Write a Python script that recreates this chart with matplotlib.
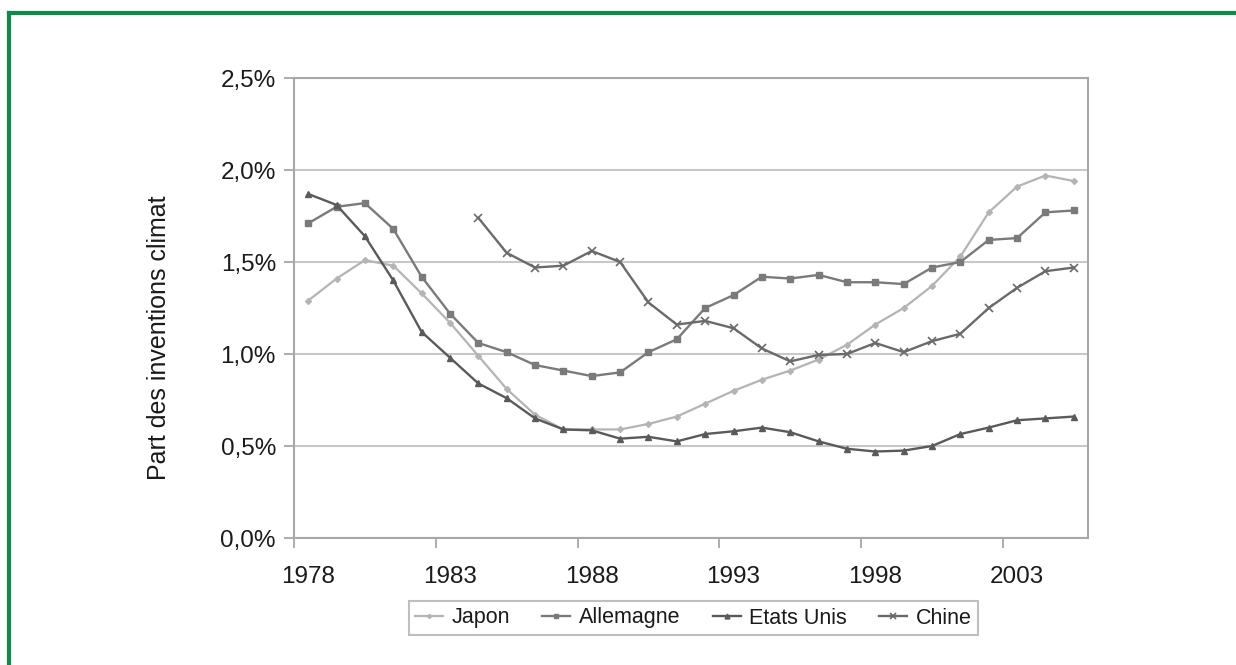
import matplotlib
matplotlib.use("Agg")
import matplotlib.pyplot as plt
from matplotlib.ticker import FixedLocator, FuncFormatter
from matplotlib.lines import Line2D
import numpy as np

plt.rcParams['font.family'] = ['Liberation Sans', 'DejaVu Sans']

years = list(range(1978, 2006))

japon = [1.29, 1.41, 1.51, 1.48, 1.33, 1.17, 0.99, 0.81, 0.67, 0.59, 0.59, 0.59,
         0.62, 0.66, 0.73, 0.80, 0.86, 0.91, 0.97, 1.05, 1.16, 1.25, 1.37, 1.53,
         1.77, 1.91, 1.97, 1.94]
allemagne = [1.71, 1.80, 1.82, 1.68, 1.42, 1.22, 1.06, 1.01, 0.94, 0.91, 0.88, 0.90,
             1.01, 1.08, 1.25, 1.32, 1.42, 1.41, 1.43, 1.39, 1.39, 1.38, 1.47, 1.50,
             1.62, 1.63, 1.77, 1.78]
etats_unis = [1.87, 1.81, 1.64, 1.40, 1.12, 0.98, 0.84, 0.76, 0.65, 0.59, 0.585, 0.54,
              0.55, 0.525, 0.565, 0.58, 0.60, 0.575, 0.525, 0.485, 0.47, 0.475, 0.50, 0.565,
              0.60, 0.64, 0.65, 0.66]
chine_years = list(range(1984, 2006))
chine = [1.74, 1.55, 1.47, 1.48, 1.56, 1.50, 1.28, 1.16, 1.18, 1.14, 1.03, 0.96,
         0.995, 1.00, 1.06, 1.01, 1.07, 1.11, 1.25, 1.36, 1.45, 1.47]

tick_years = [1978, 1983, 1988, 1993, 1998, 2003]
y_ticks = [0.0, 0.5, 1.0, 1.5, 2.0, 2.5]
ylabel = "Part des inventions climat"

W, H = 1236, 665
fig = plt.figure(figsize=(W/100, H/100), dpi=100)
ax = fig.add_axes([294/W, 1-538/H, (1088-294)/W, (538-78)/H])

styles = [
    ("Japon", years, japon, dict(color="#b4b4b4", marker="D", markersize=3.0, lw=1.6)),
    ("Allemagne", years, allemagne, dict(color="#7a7a7a", marker="s", markersize=5.0, lw=1.7)),
    ("Etats Unis", years, etats_unis, dict(color="#5a5a5a", marker="^", markersize=5.0, lw=1.7)),
    ("Chine", chine_years, chine, dict(color="#6a6a6a", marker="x", markersize=5.5, mew=1.2, lw=1.7)),
]
for name, xs, ys, st in styles:
    ax.plot(xs, ys, label=name, zorder=3, **st)

ax.set_xlim(1977.5, 2005.5)
ax.set_ylim(0, 2.5)
ax.yaxis.set_major_locator(FixedLocator(y_ticks))
ax.yaxis.set_major_formatter(FuncFormatter(lambda v, p: f"{v:.1f}%".replace('.', ',')))
ax.grid(axis='y', color="#c8c8c8", lw=1.5, zorder=0)

bounds = [y - 0.5 for y in tick_years]
ax.xaxis.set_major_locator(FixedLocator(bounds))
ax.xaxis.set_major_formatter(FuncFormatter(lambda v, p: ""))
ax.xaxis.set_minor_locator(FixedLocator(tick_years))
ax.xaxis.set_minor_formatter(FuncFormatter(lambda v, p: f"{int(round(v))}"))
ax.tick_params(axis='x', which='major', length=7, width=1.2, color="#a0a0a0", direction='out')
ax.tick_params(axis='x', which='minor', length=0, labelsize=17.5, pad=20, labelcolor="#1a1a1a")
ax.tick_params(axis='y', length=7, width=1.2, color="#a0a0a0", labelsize=17.5, pad=6, labelcolor="#1a1a1a")

for s in ax.spines.values():
    s.set_color("#a8a8a8")
    s.set_linewidth(1.5)

fig.text(159/W, 1-338/H, ylabel, rotation=90, ha='center', va='center',
         fontsize=18, color="#1a1a1a")

leg = ax.legend(loc='center', bbox_to_anchor=(693.5/W, 1-618/H), bbox_transform=fig.transFigure,
                ncol=4, frameon=True, fancybox=False, fontsize=15.5, handlelength=1.3,
                handletextpad=0.4, columnspacing=1.5, borderpad=0.3, edgecolor="#b0b0b0",
                markerscale=0.7)
leg.get_frame().set_linewidth(1.5)
for t in leg.get_texts():
    t.set_color("#1a1a1a")

# green frame
green = "#0d8a4c"
fig.add_artist(Line2D([9/W, 9/W], [0, 1-13/H], transform=fig.transFigure, color=green, lw=3))
fig.add_artist(Line2D([9/W, 1], [1-13/H, 1-13/H], transform=fig.transFigure, color=green, lw=3))

fig.savefig("out.png", dpi=100)
